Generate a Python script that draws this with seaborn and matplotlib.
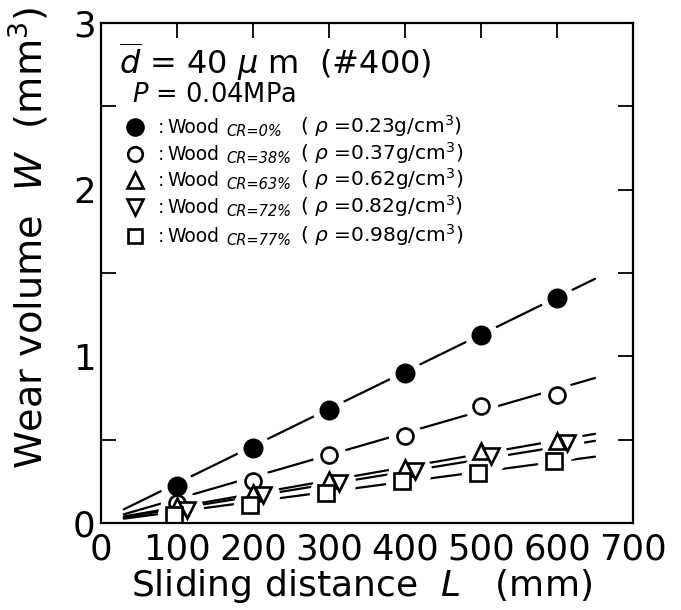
import numpy as np
import pandas as pd
import matplotlib
matplotlib.use("Agg")
import matplotlib.pyplot as plt
import seaborn as sns
from matplotlib.transforms import ScaledTranslation

# ---------------- data ----------------
distance = [100, 200, 300, 400, 500, 600]
w_cr0 = [0.22, 0.45, 0.68, 0.90, 1.13, 1.35]
w_cr38 = [0.12, 0.25, 0.41, 0.52, 0.70, 0.77]
w_cr63 = [0.10, 0.18, 0.26, 0.33, 0.43, 0.49]
w_cr72 = [0.08, 0.17, 0.24, 0.31, 0.40, 0.48]
w_cr77 = [0.05, 0.11, 0.18, 0.25, 0.30, 0.37]

fit_L = [30, 650]
fit_cr0 = [0.082, 1.465]
fit_cr38 = [0.052, 0.870]
fit_cr63 = [0.039, 0.535]
fit_cr72 = [0.034, 0.493]
fit_cr77 = [0.026, 0.398]

cr_labels = ["CR=0%", "CR=38%", "CR=63%", "CR=72%", "CR=77%"]
densities = ["0.23", "0.37", "0.62", "0.82", "0.98"]

x_ticks = [0, 100, 200, 300, 400, 500, 600, 700]
y_ticks = [0, 1, 2, 3]

# ---------------- style ----------------
sns.set_theme(style="white")
plt.rcParams["font.family"] = ["DejaVu Sans"]
plt.rcParams["mathtext.fontset"] = "dejavusans"

W, H = 681, 610
fig = plt.figure(figsize=(W / 100, H / 100), dpi=100)
ax_l, ax_r, ax_t, ax_b = 101, 633, 23, 523
ax = fig.add_axes([ax_l / W, 1 - ax_b / H, (ax_r - ax_l) / W, (ax_b - ax_t) / H])

series = [
    dict(y=w_cr0, fit=fit_cr0, marker="o", face="black", ms=12.5, dx=0),
    dict(y=w_cr38, fit=fit_cr38, marker="o", face="white", ms=11.5, dx=0),
    dict(y=w_cr63, fit=fit_cr63, marker="^", face="white", ms=12, dx=0),
    dict(y=w_cr72, fit=fit_cr72, marker="v", face="white", ms=12, dx=10),
    dict(y=w_cr77, fit=fit_cr77, marker="s", face="white", ms=11, dx=-3),
]

# fit lines
for s in series:
    df = pd.DataFrame({"L": fit_L, "W": s["fit"]})
    sns.lineplot(data=df, x="L", y="W", ax=ax, color="black", lw=1.6, zorder=2)

# white halos that break the lines around the markers
for s in series:
    off = ScaledTranslation(s["dx"] / 100, 0, fig.dpi_scale_trans)
    ax.plot(distance, s["y"], ls="none", marker="o", ms=24, mfc="white",
            mec="none", zorder=3, transform=ax.transData + off)

# markers
for s in series:
    off = ScaledTranslation(s["dx"] / 100, 0, fig.dpi_scale_trans)
    ax.plot(distance, s["y"], ls="none", marker=s["marker"], ms=s["ms"],
            mfc=s["face"], mec="black", mew=1.9, zorder=4,
            transform=ax.transData + off)

ax.set_xlim(0, 700)
ax.set_ylim(0, 3)
ax.set_xticks(x_ticks)
ax.set_xticklabels([str(v) for v in x_ticks])
ax.set_yticks(y_ticks)
ax.set_yticklabels([str(v) for v in y_ticks])
ax.set_yticks([0.5, 1.5, 2.5], minor=True)

for sp in ax.spines.values():
    sp.set_color("black")
    sp.set_linewidth(1.6)
    sp.set_zorder(6)

ax.tick_params(axis="both", which="both", direction="in", top=True, right=True,
               length=11, width=1.3, color="black", labelcolor="black")
ax.tick_params(axis="x", labelsize=25.5, pad=7)
ax.tick_params(axis="y", labelsize=25.5, pad=4)
ax.tick_params(axis="y", which="minor", length=11, width=1.3, left=True, right=True)

def px(x, y):
    return ((x - ax_l) / (ax_r - ax_l), (ax_b - y) / (ax_b - ax_t))

ax.set_xlabel("Sliding distance  $L$   (mm)", fontsize=26, color="black")
ax.xaxis.set_label_coords(*px(362, 567))
ax.set_ylabel("Wear volume  $W$  (mm$^3$)", fontsize=27.5, color="black")
ax.yaxis.set_label_coords(*px(51, 238))

# annotation block
ax.text(*px(119, 74), r"$\overline{d}$ = 40 $\mu$ m  (#400)", transform=ax.transAxes,
        fontsize=23, ha="left", va="baseline", color="black")
ax.text(*px(132, 102), r"$P$ = 0.04MPa", transform=ax.transAxes,
        fontsize=18.5, ha="left", va="baseline", color="black")

row_base = [133, 160, 186, 213, 242]
for s, cr, rho, yb in zip(series, cr_labels, densities, row_base):
    mx, my = px(135, yb - 6)
    ax.plot([mx], [my], transform=ax.transAxes, ls="none", marker=s["marker"],
            ms=s["ms"] - 1, mfc=s["face"], mec="black", mew=1.9, clip_on=False)
    ax.text(*px(158, yb), ":", transform=ax.transAxes, fontsize=13.5,
            ha="left", va="baseline", color="black")
    ax.text(*px(167, yb), "Wood", transform=ax.transAxes, fontsize=13.5,
            ha="left", va="baseline", color="black")
    ax.text(*px(226, yb + 3), cr, transform=ax.transAxes, fontsize=10.5,
            style="italic", ha="left", va="baseline", color="black")
    ax.text(*px(300, yb), r"( $\rho$ =" + rho + r"g/cm$^3$)", transform=ax.transAxes,
            fontsize=14.5, ha="left", va="baseline", color="black")

fig.savefig("out.png", dpi=100, facecolor="white")
